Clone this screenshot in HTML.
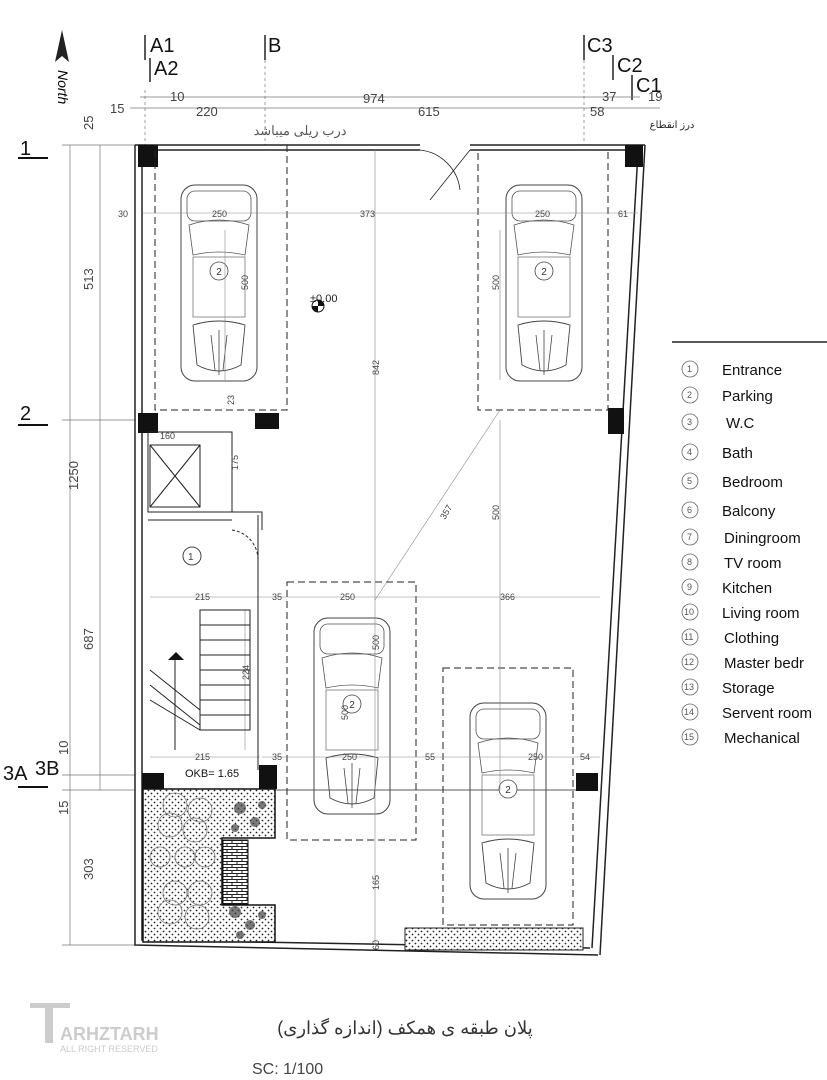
<!DOCTYPE html>
<html><head><meta charset="utf-8"><style>
html,body{margin:0;padding:0;background:#fff;}
svg{display:block;}
text{font-family:"Liberation Sans",sans-serif;}
</style></head><body>
<svg width="827" height="1080" viewBox="0 0 827 1080" xmlns="http://www.w3.org/2000/svg">
<defs>
<pattern id="hatch" width="6" height="6" patternUnits="userSpaceOnUse">
<rect width="6" height="6" fill="#fff"/>
<circle cx="1.5" cy="1.5" r="0.9" fill="#222"/><circle cx="4.5" cy="4.5" r="0.9" fill="#222"/>
</pattern>
<pattern id="brick" width="10" height="6" patternUnits="userSpaceOnUse">
<rect width="10" height="6" fill="#fff"/>
<path d="M0 0.5 H10 M0 3.5 H10 M2 0.5 V3.5 M7 3.5 V6" stroke="#222" stroke-width="1"/>
</pattern>
<g id="car">
<rect x="0" y="0" width="76" height="196" rx="14" fill="none" stroke="#444" stroke-width="1"/>
<rect x="6" y="6" width="64" height="30" rx="8" fill="none" stroke="#555" stroke-width="0.8"/>
<path d="M8 40 Q38 30 68 40 L64 70 Q38 64 12 70 Z" fill="none" stroke="#555" stroke-width="0.8"/>
<rect x="12" y="72" width="52" height="60" fill="none" stroke="#666" stroke-width="0.7"/>
<path d="M12 140 Q38 132 64 140 L60 180 Q38 192 16 180 Z" fill="none" stroke="#444" stroke-width="0.9"/>
<path d="M30 150 L34 185 M46 150 L42 185 M38 145 L38 190" stroke="#444" stroke-width="0.8"/>
<circle cx="38" cy="86" r="9" fill="#fff" stroke="#444" stroke-width="0.8"/>
<text x="38" y="90" font-size="10" text-anchor="middle" fill="#333">2</text>
</g>
</defs>
<rect width="827" height="1080" fill="#fff"/>

<path d="M62 30 L55 62 L62 56 L69 62 Z" fill="#222"/>
<text x="58" y="70" font-size="14" font-family="Liberation Serif" font-style="italic" transform="rotate(90 58 70)">North</text>

<g stroke="#222" stroke-width="1.5">
<line x1="145" y1="35" x2="145" y2="60"/><line x1="150" y1="58" x2="150" y2="82"/>
<line x1="265" y1="35" x2="265" y2="60"/><line x1="584" y1="35" x2="584" y2="60"/>
<line x1="613" y1="55" x2="613" y2="80"/><line x1="632" y1="75" x2="632" y2="100"/>
</g>
<g font-size="20" fill="#111">
<text x="150" y="52">A1</text><text x="154" y="75">A2</text><text x="268" y="52">B</text>
<text x="587" y="52">C3</text><text x="617" y="72">C2</text><text x="636" y="92">C1</text>
</g>
<g stroke="#777" stroke-width="0.7">
<line x1="130" y1="108" x2="660" y2="108"/><line x1="140" y1="97" x2="640" y2="97"/>
<line x1="145" y1="90" x2="145" y2="145" stroke-dasharray="3,3"/>
<line x1="265" y1="60" x2="265" y2="145" stroke-dasharray="3,3"/>
<line x1="584" y1="60" x2="584" y2="145" stroke-dasharray="3,3"/>
</g>
<g font-size="13" fill="#444" font-family="Liberation Serif">
<text x="110" y="113">15</text><text x="170" y="101">10</text><text x="196" y="116">220</text>
<text x="363" y="103">974</text><text x="418" y="116">615</text><text x="602" y="101">37</text>
<text x="590" y="116">58</text><text x="648" y="101">19</text>
</g>
<text x="300" y="135" font-size="13" fill="#555" text-anchor="middle" font-family="'Liberation Sans','Noto Sans CJK SC',sans-serif">درب ریلی میباشد</text>
<text x="672" y="128" font-size="10" fill="#222" text-anchor="middle" font-family="'Liberation Sans','Noto Sans CJK SC',sans-serif">درز انقطاع</text>

<g stroke="#777" stroke-width="0.7">
<line x1="70" y1="145" x2="70" y2="945"/><line x1="100" y1="145" x2="100" y2="790"/>
<line x1="62" y1="145" x2="135" y2="145"/><line x1="62" y1="420" x2="135" y2="420"/>
<line x1="62" y1="775" x2="135" y2="775"/><line x1="62" y1="790" x2="135" y2="790"/>
<line x1="62" y1="945" x2="135" y2="945"/>
</g>
<g font-size="13" fill="#444" font-family="Liberation Serif">
<text transform="translate(93,130) rotate(-90)">25</text>
<text transform="translate(93,290) rotate(-90)">513</text>
<text transform="translate(78,490) rotate(-90)">1250</text>
<text transform="translate(93,650) rotate(-90)">687</text>
<text transform="translate(68,755) rotate(-90)">10</text>
<text transform="translate(68,815) rotate(-90)">15</text>
<text transform="translate(93,880) rotate(-90)">303</text>
</g>
<g stroke="#111" stroke-width="2"><line x1="18" y1="158" x2="48" y2="158"/><line x1="18" y1="425" x2="48" y2="425"/><line x1="18" y1="787" x2="48" y2="787"/></g>
<g font-size="20" fill="#111"><text x="20" y="155">1</text><text x="20" y="420">2</text><text x="3" y="780">3A</text><text x="35" y="775">3B</text></g>

<g fill="none" stroke="#222" stroke-width="1.5">
<path d="M135 145 L135 945 L598 955"/>
<path d="M142 150 L142 940 L590 948"/>
<path d="M645 145 L600 955"/><path d="M638 152 L592 948"/>
<line x1="135" y1="145" x2="420" y2="145"/><line x1="142" y1="150" x2="420" y2="150"/>
<line x1="470" y1="145" x2="645" y2="145"/><line x1="470" y1="150" x2="638" y2="150"/>
<path d="M420 150 A45 45 0 0 1 460 190" stroke-width="0.8"/>
<line x1="470" y1="150" x2="430" y2="200" stroke-width="0.8"/>
<line x1="142" y1="790" x2="595" y2="790" stroke-width="0.8"/>
</g>
<g fill="#111">
<rect x="138" y="145" width="20" height="22"/><rect x="625" y="145" width="18" height="22"/>
<rect x="138" y="413" width="20" height="20"/><rect x="255" y="413" width="24" height="16"/>
<rect x="608" y="408" width="16" height="26"/>
<rect x="142" y="773" width="22" height="18"/><rect x="259" y="765" width="18" height="24"/>
<rect x="576" y="773" width="22" height="18"/>
</g>
<g fill="none" stroke="#222" stroke-width="1" stroke-dasharray="7,4">
<rect x="155" y="145" width="132" height="265"/><rect x="478" y="150" width="130" height="260"/>
<rect x="287" y="582" width="129" height="258"/><rect x="443" y="668" width="130" height="257"/>
</g>
<use href="#car" x="181" y="185"/><use href="#car" x="506" y="185"/>
<use href="#car" x="314" y="618"/><use href="#car" x="470" y="703"/>

<g stroke="#888" stroke-width="0.6">
<line x1="142" y1="213" x2="638" y2="213"/><line x1="375" y1="150" x2="375" y2="945"/>
<line x1="225" y1="230" x2="225" y2="380"/><line x1="500" y1="230" x2="500" y2="380"/>
<line x1="375" y1="600" x2="500" y2="410"/><line x1="260" y1="597" x2="600" y2="597"/>
<line x1="262" y1="757" x2="600" y2="757"/><line x1="500" y1="420" x2="500" y2="790"/>
<line x1="150" y1="597" x2="260" y2="597"/><line x1="150" y1="757" x2="260" y2="757"/>
<line x1="245" y1="610" x2="245" y2="750"/>
</g>
<g font-size="9" fill="#444">
<text x="118" y="217">30</text><text x="212" y="217">250</text><text x="360" y="217">373</text>
<text x="535" y="217">250</text><text x="618" y="217">61</text>
<text transform="translate(248,290) rotate(-90)">500</text><text transform="translate(499,290) rotate(-90)">500</text>
<text transform="translate(379,375) rotate(-90)">842</text><text transform="translate(445,520) rotate(-60)">357</text>
<text x="195" y="600">215</text><text x="272" y="600">35</text><text x="340" y="600">250</text><text x="500" y="600">366</text>
<text x="195" y="760">215</text><text x="272" y="760">35</text><text x="342" y="760">250</text><text x="425" y="760">55</text>
<text x="528" y="760">250</text><text x="580" y="760">54</text>
<text transform="translate(379,650) rotate(-90)">500</text><text transform="translate(379,890) rotate(-90)">165</text>
<text transform="translate(379,950) rotate(-90)">60</text><text transform="translate(499,520) rotate(-90)">500</text>
<text transform="translate(348,720) rotate(-90)">500</text><text transform="translate(249,680) rotate(-90)">224</text>
<text transform="translate(234,405) rotate(-90)">23</text>
</g>
<text x="310" y="302" font-size="11" fill="#222">±0.00</text>
<circle cx="318" cy="306" r="6" fill="none" stroke="#111"/><path d="M312 306 A6 6 0 0 0 318 312 L318 306 Z M324 306 A6 6 0 0 0 318 300 L318 306 Z" fill="#111"/>

<g fill="none" stroke="#222" stroke-width="1">
<rect x="148" y="432" width="84" height="80"/>
<rect x="150" y="445" width="50" height="62"/><path d="M150 445 L200 507 M200 445 L150 507"/>
<path d="M148 512 L262 512 L262 530 M258 515 L258 770 M148 520 L232 520"/>
<rect x="200" y="610" width="50" height="120"/>
<path d="M200 625 H250 M200 640 H250 M200 655 H250 M200 670 H250 M200 685 H250 M200 700 H250 M200 715 H250"/>
<path d="M150 670 L200 710 M150 685 L200 725 M150 700 L200 730 M175 660 V750"/>
<path d="M232 530 A30 30 0 0 1 258 560" stroke-dasharray="3,2"/>
</g>
<text x="160" y="439" font-size="9" fill="#444">160</text><text x="238" y="470" font-size="9" fill="#444" transform="rotate(-90 238 470)">175</text>
<circle cx="192" cy="556" r="9" fill="none" stroke="#444"/><text x="188" y="560" font-size="10" fill="#444">1</text>
<path d="M168 660 L176 652 L184 660 Z" fill="#111"/>
<text x="185" y="777" font-size="11" fill="#111">OKB= 1.65</text>

<!-- landscape area -->
<path d="M143 789 L275 789 L275 838 L222 838 L222 905 L275 905 L275 942 L143 942 Z" fill="url(#hatch)" stroke="#111" stroke-width="1.5"/>
<rect x="223" y="840" width="25" height="64" fill="url(#brick)" stroke="#111"/>
<g fill="none" stroke="#777" stroke-width="0.8">
<circle cx="175" cy="805" r="12"/><circle cx="200" cy="810" r="12"/><circle cx="170" cy="825" r="12"/><circle cx="195" cy="830" r="12"/>
<circle cx="160" cy="857" r="10"/><circle cx="185" cy="857" r="10"/><circle cx="205" cy="857" r="10"/>
<circle cx="175" cy="893" r="12"/><circle cx="200" cy="893" r="12"/><circle cx="170" cy="912" r="12"/><circle cx="197" cy="917" r="12"/>
</g>
<g fill="#444" opacity="0.7">
<circle cx="240" cy="808" r="6"/><circle cx="255" cy="822" r="5"/><circle cx="235" cy="828" r="4"/><circle cx="262" cy="805" r="4"/>
<circle cx="235" cy="912" r="6"/><circle cx="250" cy="925" r="5"/><circle cx="240" cy="935" r="4"/><circle cx="262" cy="915" r="4"/>
</g>
<rect x="405" y="928" width="178" height="22" fill="url(#hatch)" stroke="#222"/>

<line x1="672" y1="342" x2="827" y2="342" stroke="#222" stroke-width="1.5"/>
<g font-size="15" fill="#111">
<g stroke="#666" fill="none" stroke-width="0.8">
<circle cx="690" cy="369" r="8"/><circle cx="690" cy="395" r="8"/><circle cx="690" cy="422" r="8"/><circle cx="690" cy="452" r="8"/>
<circle cx="690" cy="481" r="8"/><circle cx="690" cy="510" r="8"/><circle cx="690" cy="537" r="8"/><circle cx="690" cy="562" r="8"/>
<circle cx="690" cy="587" r="8"/><circle cx="690" cy="612" r="8"/><circle cx="690" cy="637" r="8"/><circle cx="690" cy="662" r="8"/>
<circle cx="690" cy="687" r="8"/><circle cx="690" cy="712" r="8"/><circle cx="690" cy="737" r="8"/>
</g>
<text x="722" y="375">Entrance</text><text x="722" y="401">Parking</text><text x="726" y="428">W.C</text>
<text x="722" y="458">Bath</text><text x="722" y="487">Bedroom</text><text x="722" y="516">Balcony</text>
<text x="724" y="543">Diningroom</text><text x="724" y="568">TV room</text><text x="722" y="593">Kitchen</text>
<text x="722" y="618">Living room</text><text x="724" y="643">Clothing</text><text x="724" y="668">Master bedr</text>
<text x="722" y="693">Storage</text><text x="722" y="718">Servent room</text><text x="724" y="743">Mechanical</text>
<g font-size="9" fill="#555">
<text x="687" y="372">1</text><text x="687" y="398">2</text><text x="687" y="425">3</text><text x="687" y="455">4</text><text x="687" y="484">5</text>
<text x="687" y="513">6</text><text x="687" y="540">7</text><text x="687" y="565">8</text><text x="687" y="590">9</text><text x="684" y="615">10</text>
<text x="684" y="640">11</text><text x="684" y="665">12</text><text x="684" y="690">13</text><text x="684" y="715">14</text><text x="684" y="740">15</text>
</g>
</g>

<g fill="#ccc">
<rect x="30" y="1003" width="40" height="5"/><rect x="45" y="1008" width="8" height="35"/>
<text x="60" y="1040" font-size="18" font-weight="bold" fill="#ccc">ARHZTARH</text>
<text x="60" y="1052" font-size="9" fill="#ccc">ALL RIGHT RESERVED</text>
</g>
<text x="405" y="1034" font-size="18" fill="#333" text-anchor="middle" font-family="'Liberation Serif','Noto Sans CJK SC',serif">پلان طبقه ی همکف (اندازه گذاری)</text>
<text x="252" y="1074" font-size="16" fill="#444" font-family="Liberation Serif">SC:   1/100</text>
</svg>
</body></html>
